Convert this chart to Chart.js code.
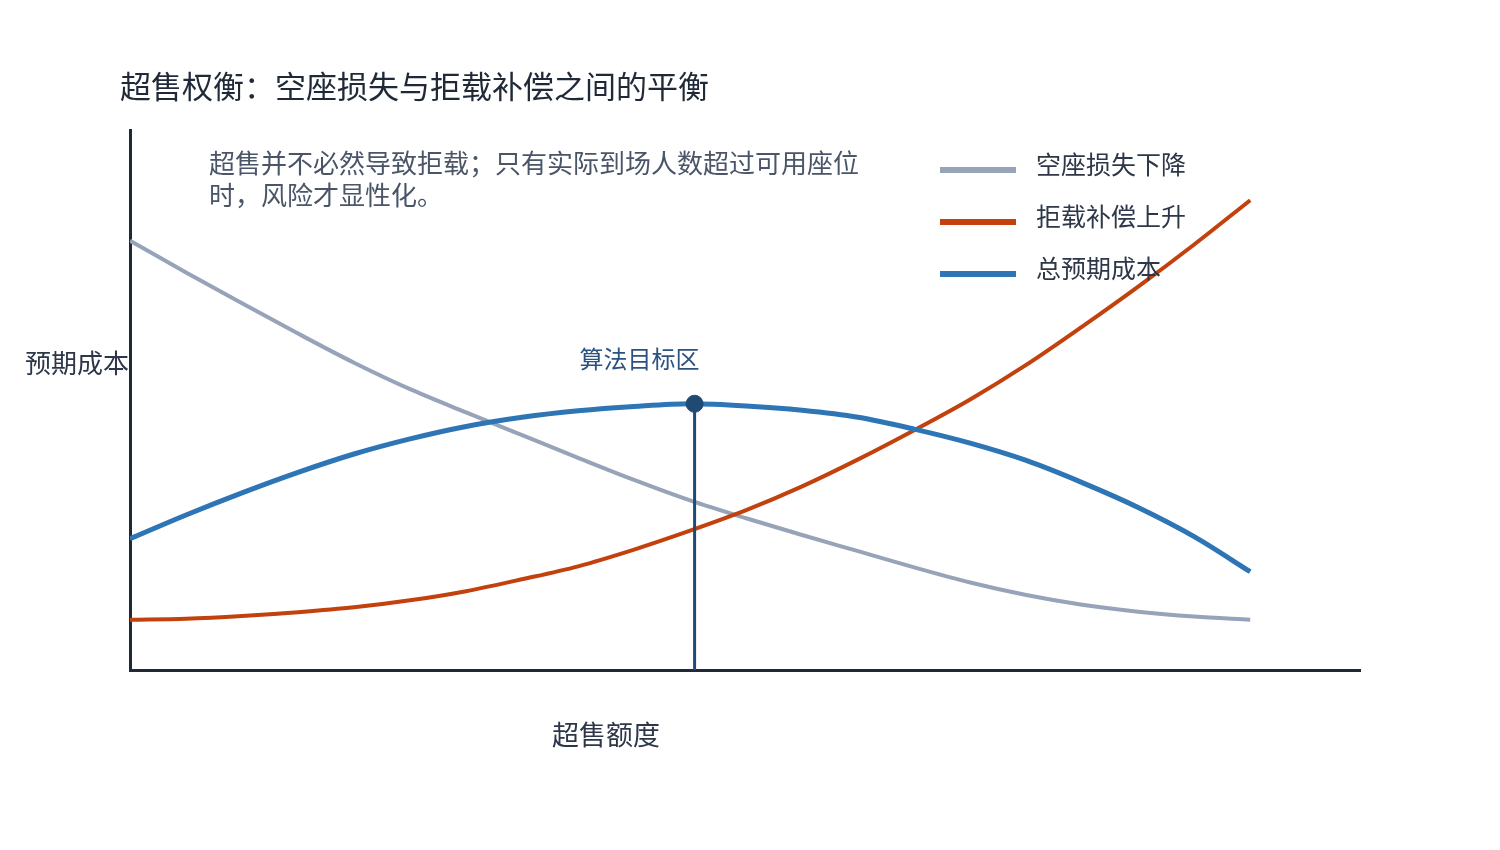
<!DOCTYPE html>
<html><head><meta charset="utf-8">
<script src="https://cdn.jsdelivr.net/npm/chart.js@4.4.1/dist/chart.umd.min.js"></script>
<style>html,body{margin:0;padding:0;background:#fff}#wrap{width:1500px;height:850px}</style>
</head><body><div id="wrap"><canvas id="c" width="1500" height="850"></canvas></div>
<script>
const xValues = [0,5,10,15,20,25,30,35,40,45,50,55,60,65,70,75,80,85,90,95,100];
const emptySeatLoss = [79.5,73.6,67.9,62.3,56.9,52.0,47.7,43.5,39.3,35.2,31.4,28.1,25.0,22.0,19.0,16.2,13.9,12.1,10.8,9.9,9.3];
const deniedBoardingComp = [9.3,9.5,10.0,10.7,11.6,12.9,14.6,16.8,19.2,22.3,25.8,29.6,34.0,39.0,44.4,50.1,56.5,63.6,71.0,78.8,87.0];
const totalExpectedCost = [24.3,28.7,32.8,36.6,40.0,42.8,45.1,46.8,48.0,48.8,49.3,48.9,48.1,46.8,44.6,42.0,38.8,34.7,30.1,24.7,18.2];
const targetX = [50.4];
const targetY = [49.3];
const seriesNames = ['空座损失下降','拒载补偿上升','总预期成本'];
const titleText = '超售权衡：空座损失与拒载补偿之间的平衡';
const noteLines = ['超售并不必然导致拒载；只有实际到场人数超过可用座位','时，风险才显性化。'];
const xAxisTitle = '超售额度';
const yAxisTitle = '预期成本';
const targetLabel = '算法目标区';

const FONT = '"Noto Sans CJK SC","Noto Sans",sans-serif';
const colors = ['#97a3b8','#c2410c','#2e75b6'];
const pts = arr => xValues.map((x,i)=>({x, y: arr[i]}));

const textPlugin = {
  id: 'texts',
  afterDraw(chart) {
    const ctx = chart.ctx;
    const xs = chart.scales.x;
    ctx.save();
    ctx.textBaseline = 'middle';
    ctx.fillStyle = '#1f2937';
    ctx.font = '31px ' + FONT;
    ctx.textAlign = 'left';
    ctx.fillText(titleText, 120, 86);
    ctx.fillStyle = '#4a5568';
    ctx.font = '26px ' + FONT;
    noteLines.forEach((l,i)=>ctx.fillText(l, 209, 163 + i*32));
    const lx1 = 940, lx2 = 1016, ly = [170,222,274];
    seriesNames.forEach((n,i)=>{
      ctx.strokeStyle = colors[i];
      ctx.lineWidth = 6;
      ctx.beginPath(); ctx.moveTo(lx1, ly[i]); ctx.lineTo(lx2, ly[i]); ctx.stroke();
      ctx.fillStyle = '#2d3748';
      ctx.font = '25px ' + FONT;
      ctx.textAlign = 'left';
      ctx.fillText(n, 1036, ly[i] - 6);
    });
    ctx.fillStyle = '#2d3748';
    ctx.font = '26px ' + FONT;
    ctx.textAlign = 'right';
    ctx.fillText(yAxisTitle, 129, 363);
    ctx.font = '27px ' + FONT;
    ctx.textAlign = 'center';
    ctx.fillText(xAxisTitle, 606, 735);
    ctx.fillStyle = '#2c5282';
    ctx.font = '24px ' + FONT;
    ctx.textAlign = 'center';
    ctx.fillText(targetLabel, xs.getPixelForValue(targetX[0]) - 55, 359);
    ctx.restore();
  }
};

new Chart(document.getElementById('c'), {
  type: 'line',
  data: {
    datasets: [
      { label: seriesNames[0], data: pts(emptySeatLoss), borderColor: colors[0], borderWidth: 4, pointRadius: 0, cubicInterpolationMode: 'monotone', order: 3 },
      { label: seriesNames[1], data: pts(deniedBoardingComp), borderColor: colors[1], borderWidth: 4, pointRadius: 0, cubicInterpolationMode: 'monotone', order: 2 },
      { label: seriesNames[2], data: pts(totalExpectedCost), borderColor: colors[2], borderWidth: 5, pointRadius: 0, cubicInterpolationMode: 'monotone', order: 1 },
      { label: 'stem', data: [{x: targetX[0], y: 0}, {x: targetX[0], y: targetY[0]}], borderColor: '#1f4a73', borderWidth: 3, pointRadius: 0, order: 0 },
      { label: 'target', data: [{x: targetX[0], y: targetY[0]}], borderColor: '#1f4a73', backgroundColor: '#1f4a73', showLine: false, pointRadius: 8.5, pointHoverRadius: 8.5, order: -1 }
    ]
  },
  options: {
    responsive: false,
    animation: false,
    events: [],
    layout: { padding: { left: 130, right: 140, top: 130, bottom: 180 } },
    plugins: { legend: { display: false }, title: { display: false }, tooltip: { enabled: false } },
    scales: {
      x: { type: 'linear', min: 0, max: 109.8, display: true,
           grid: { display: false, drawTicks: false },
           border: { display: true, color: '#1f2937', width: 3 },
           ticks: { display: false } },
      y: { type: 'linear', min: 0, max: 100, display: true,
           grid: { display: false, drawTicks: false },
           border: { display: true, color: '#1f2937', width: 3 },
           ticks: { display: false } }
    }
  },
  plugins: [textPlugin]
});
</script></body></html>
